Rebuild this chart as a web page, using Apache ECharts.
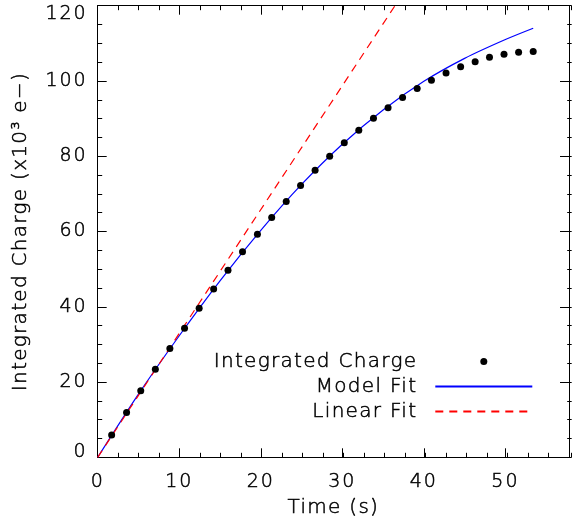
<!DOCTYPE html>
<html>
<head>
<meta charset="utf-8">
<script src="https://cdn.jsdelivr.net/npm/echarts@6/dist/echarts.min.js"></script>
<style>html,body{margin:0;padding:0;background:#fff;}#chart{width:572px;height:527px;}</style>
</head>
<body>
<div id="chart"></div>
<script>
// Integrated charge measurements (time in s, charge in 10^3 e-)
var pointTime = [1.71, 3.54, 5.28, 7.07, 8.85, 10.65, 12.44, 14.22, 15.98, 17.76,
                 19.59, 21.34, 23.12, 24.88, 26.66, 28.45, 30.24, 32.02, 33.82, 35.61,
                 37.39, 39.18, 40.93, 42.72, 44.51, 46.29, 48.05, 49.83, 51.62, 53.41];
var pointCharge = [5.9, 11.9, 17.7, 23.4, 28.9, 34.3, 39.6, 44.7, 49.7, 54.6,
                   59.3, 63.7, 68.0, 72.2, 76.3, 80.0, 83.6, 86.9, 90.1, 92.9,
                   95.6, 98.0, 100.2, 102.1, 103.8, 105.1, 106.3, 107.1, 107.6, 107.8];
// Model fit curve
var modelTime = [0, 5, 10, 15, 20, 25, 30, 35, 40, 45, 50, 53.41];
var modelCharge = [0, 16.8, 32.3, 46.9, 60.3, 72.5, 83.2, 92.3, 99.9, 106.0, 111.0, 114.0];
// Linear fit (through origin, leaves the plot at the top)
var linearTime = [0, 36.46];
var linearCharge = [0, 120];
// Axes
var xMax = 57.8, xMajor = 10, xMinor = 2.5;
var yMax = 120, yMajor = 20, yMinor = 5;
var seriesNames = ['Integrated Charge', 'Model Fit', 'Linear Fit'];

function zip(a, b) { return a.map(function (v, i) { return [v, b[i]]; }); }

// The reference uses a wide vector font: widen glyph spacing a little.
(function () {
  var proto = CanvasRenderingContext2D.prototype;
  if (!('letterSpacing' in proto)) return;
  function wrap(name) {
    var orig = proto[name];
    proto[name] = function () {
      var f = this.font || '';
      this.letterSpacing = f.indexOf('19px') >= 0 ? '2px' : '1.3px';
      var r = orig.apply(this, arguments);
      this.letterSpacing = '0px';
      return r;
    };
  }
  wrap('fillText');
  wrap('strokeText');
})();

var FONT = 'DejaVu Sans';
var WEIGHT = 200;
var TB = { textBorderColor: '#000', textBorderWidth: 0.5 };
var gridBox = { left: 97.7, right: 0.3, top: 5.7, bottom: 69.7 };

function txt(size, extra) {
  return Object.assign({ fontFamily: FONT, fontWeight: WEIGHT, fontSize: size, color: '#000' }, TB, extra || {});
}

function xAxisDef(grid, pos, interval, len, labels) {
  return {
    type: 'value', gridIndex: grid, position: pos, min: 0, max: xMax, interval: interval,
    axisLine: { show: grid === 0, onZero: false, lineStyle: { color: '#000', width: 1 } },
    axisTick: { show: true, inside: true, length: len, lineStyle: { color: '#000', width: 1 } },
    splitLine: { show: false },
    axisLabel: labels ? txt(19, {
      show: true, margin: 15,
      formatter: function (v) { return (v % xMajor === 0) ? String(v) : ''; }
    }) : { show: false }
  };
}
function yAxisDef(grid, pos, interval, len, labels) {
  return {
    type: 'value', gridIndex: grid, position: pos, min: 0, max: yMax, interval: interval,
    axisLine: { show: grid === 0, onZero: false, lineStyle: { color: '#000', width: 1 } },
    axisTick: { show: true, inside: true, length: len, lineStyle: { color: '#000', width: 1 } },
    splitLine: { show: false },
    axisLabel: labels ? txt(19, {
      show: true, margin: 10,
      formatter: function (v) {
        if (v === yMax) return '{t|' + v + '}';
        if (v === 0) return '{b|' + v + '}';
        return String(v);
      },
      rich: {
        t: txt(19, { padding: [16, 0, 0, 0] }),
        b: txt(19, { padding: [0, 0, 11, 0] })
      }
    }) : { show: false }
  };
}

var xa0 = xAxisDef(0, 'bottom', xMajor, 9, true);
xa0.name = 'Time (s)'; xa0.nameLocation = 'middle'; xa0.nameGap = 40;
xa0.nameTextStyle = txt(20);
var ya0 = yAxisDef(0, 'left', yMajor, 9, true);
ya0.name = 'Integrated Charge (x10\u00B3 e\u2212)'; ya0.nameLocation = 'middle'; ya0.nameGap = 67;
ya0.nameTextStyle = txt(20, { padding: [0, 0, 0, 0] });

var option = {
  backgroundColor: '#fff',
  animation: false,
  grid: [
    Object.assign({ containLabel: false }, gridBox),
    Object.assign({ containLabel: false }, gridBox)
  ],
  xAxis: [
    xa0,
    xAxisDef(0, 'top', xMajor, 9, false),
    xAxisDef(1, 'bottom', xMinor, 4.5, false),
    xAxisDef(1, 'top', xMinor, 4.5, false)
  ],
  yAxis: [
    ya0,
    yAxisDef(0, 'right', yMajor, 9, false),
    yAxisDef(1, 'left', yMinor, 4.5, false),
    yAxisDef(1, 'right', yMinor, 4.5, false)
  ],
  legend: {
    orient: 'vertical', align: 'right', right: 38.7, top: 349, padding: 0,
    itemWidth: 97, itemHeight: 7, itemGap: 0,
    data: [
      { name: seriesNames[0] },
      { name: seriesNames[1], itemStyle: { opacity: 0 } },
      { name: seriesNames[2], itemStyle: { opacity: 0 } }
    ],
    textStyle: txt(20, { lineHeight: 25, padding: [0, 13, 0, 0] })
  },
  series: [
    {
      name: seriesNames[1], type: 'line', xAxisIndex: 0, yAxisIndex: 0,
      data: zip(modelTime, modelCharge), symbol: 'none', smooth: 0.3,
      lineStyle: { color: '#0000ff', width: 1.2 }, itemStyle: { color: '#0000ff' }, z: 2
    },
    {
      name: seriesNames[2], type: 'line', xAxisIndex: 0, yAxisIndex: 0,
      data: zip(linearTime, linearCharge), symbol: 'none',
      lineStyle: { color: '#ff0000', width: 1.2, type: [8, 6] }, itemStyle: { color: '#ff0000' }, z: 2
    },
    {
      name: seriesNames[0], type: 'scatter', xAxisIndex: 0, yAxisIndex: 0,
      data: zip(pointTime, pointCharge), symbol: 'circle', symbolSize: 7, symbolKeepAspect: true,
      itemStyle: { color: '#000', opacity: 1 }, z: 3
    }
  ]
};
var chart = echarts.init(document.getElementById('chart'), null, { renderer: 'canvas' });
chart.setOption(option);
</script>
</body>
</html>
